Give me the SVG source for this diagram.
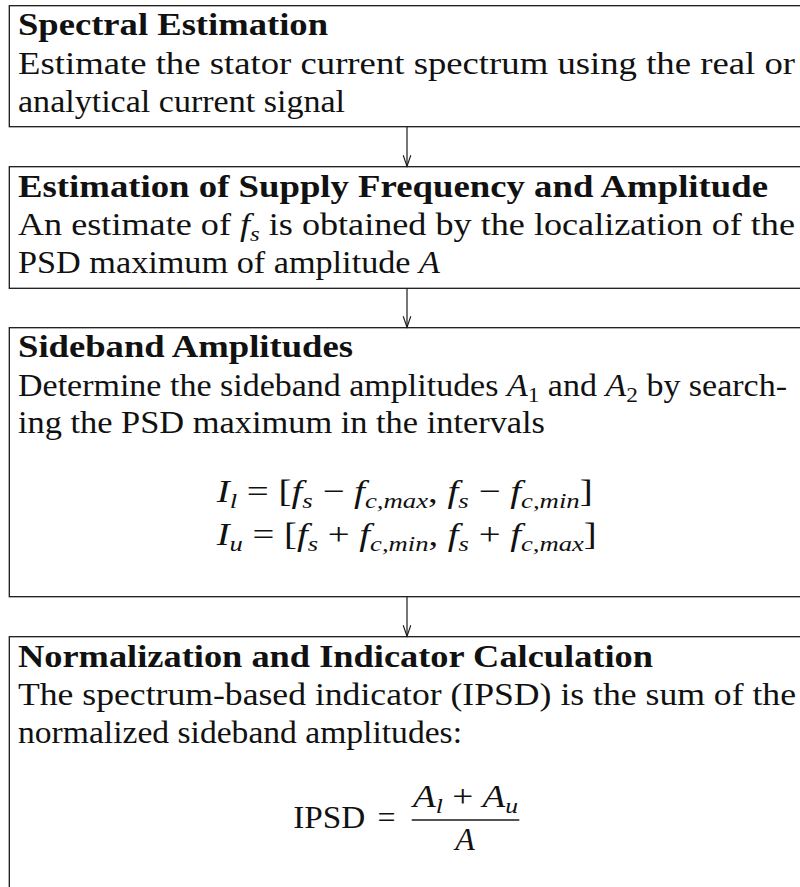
<svg xmlns="http://www.w3.org/2000/svg" width="800" height="887" viewBox="0 0 800 887">
<style>
.box{fill:#fff;stroke:#1a1a1a;stroke-width:1.3}
.t{font-family:"Liberation Serif","Times New Roman",serif;font-size:32px;fill:#111}
.b{font-weight:bold}
.i{font-style:italic}
.s{font-size:22px}
.conn{stroke:#1a1a1a;stroke-width:1.2;fill:none}
</style>
<defs>
<marker id="arr" markerUnits="userSpaceOnUse" markerWidth="14" markerHeight="14" refX="0" refY="0" orient="auto" overflow="visible">
<path d="M-11,-3.8 L0,0 L-11,3.8" fill="none" stroke="#1a1a1a" stroke-width="1.1"/>
</marker>
</defs>
<rect width="800" height="887" fill="#fff"/>

<g id="node-spectral">
<rect class="box" x="9.3" y="5.7" width="900" height="121"/>
<text class="t b" x="18" y="35" textLength="310" lengthAdjust="spacingAndGlyphs">Spectral Estimation</text>
<text class="t" x="18" y="73.5" textLength="777" lengthAdjust="spacingAndGlyphs">Estimate the stator current spectrum using the real or</text>
<text class="t" x="18" y="112" textLength="327" lengthAdjust="spacingAndGlyphs">analytical current signal</text>
</g>

<g id="node-supply">
<rect class="box" x="9.3" y="166.7" width="900" height="121.6"/>
<text class="t b" x="18" y="196.7" textLength="750" lengthAdjust="spacingAndGlyphs">Estimation of Supply Frequency and Amplitude</text>
<text class="t" x="18" y="235" textLength="777" lengthAdjust="spacingAndGlyphs">An estimate of <tspan class="i">f</tspan><tspan class="i s" dy="6">s</tspan><tspan dy="-6"> is obtained by the localization of the</tspan></text>
<text class="t" x="18" y="273.3" textLength="422" lengthAdjust="spacingAndGlyphs">PSD maximum of amplitude <tspan class="i">A</tspan></text>
</g>

<g id="node-sideband">
<rect class="box" x="9.3" y="327.7" width="900" height="269"/>
<text class="t b" x="18" y="357.3" textLength="335" lengthAdjust="spacingAndGlyphs">Sideband Amplitudes</text>
<text class="t" x="18" y="395.7" textLength="769" lengthAdjust="spacingAndGlyphs">Determine the sideband amplitudes <tspan class="i">A</tspan><tspan class="s" dy="6">1</tspan><tspan dy="-6"> and </tspan><tspan class="i">A</tspan><tspan class="s" dy="6">2</tspan><tspan dy="-6"> by search-</tspan></text>
<text class="t" x="18" y="433.3" textLength="527" lengthAdjust="spacingAndGlyphs">ing the PSD maximum in the intervals</text>
<text class="t" x="216.7" y="501.7" textLength="376" lengthAdjust="spacingAndGlyphs"><tspan class="i">I</tspan><tspan class="i s" dy="6">l</tspan><tspan dy="-6"> = [</tspan><tspan class="i">f</tspan><tspan class="i s" dy="6">s</tspan><tspan dy="-6"> − </tspan><tspan class="i">f</tspan><tspan class="i s" dy="6">c,max</tspan><tspan dy="-6">, </tspan><tspan class="i">f</tspan><tspan class="i s" dy="6">s</tspan><tspan dy="-6"> − </tspan><tspan class="i">f</tspan><tspan class="i s" dy="6">c,min</tspan><tspan dy="-6">]</tspan></text>
<text class="t" x="216.7" y="545" textLength="380" lengthAdjust="spacingAndGlyphs"><tspan class="i">I</tspan><tspan class="i s" dy="6">u</tspan><tspan dy="-6"> = [</tspan><tspan class="i">f</tspan><tspan class="i s" dy="6">s</tspan><tspan dy="-6"> + </tspan><tspan class="i">f</tspan><tspan class="i s" dy="6">c,min</tspan><tspan dy="-6">, </tspan><tspan class="i">f</tspan><tspan class="i s" dy="6">s</tspan><tspan dy="-6"> + </tspan><tspan class="i">f</tspan><tspan class="i s" dy="6">c,max</tspan><tspan dy="-6">]</tspan></text>
</g>

<g id="node-normalization">
<rect class="box" x="9.3" y="636.7" width="900" height="300"/>
<text class="t b" x="18" y="666.7" textLength="635" lengthAdjust="spacingAndGlyphs">Normalization and Indicator Calculation</text>
<text class="t" x="18" y="705" textLength="778" lengthAdjust="spacingAndGlyphs">The spectrum-based indicator (IPSD) is the sum of the</text>
<text class="t" x="18" y="743.3" textLength="444" lengthAdjust="spacingAndGlyphs">normalized sideband amplitudes:</text>
<text class="t" x="293.3" y="828.3" textLength="72" lengthAdjust="spacingAndGlyphs">IPSD</text>
<text class="t" x="386.5" y="828.3" text-anchor="middle">=</text>
<text class="t" x="413" y="807" textLength="105" lengthAdjust="spacingAndGlyphs"><tspan class="i">A</tspan><tspan class="i s" dy="6">l</tspan><tspan dy="-6"> + </tspan><tspan class="i">A</tspan><tspan class="i s" dy="6">u</tspan></text>
<line x1="411.7" y1="820" x2="519.3" y2="820" stroke="#1a1a1a" stroke-width="1.3"/>
<text class="t i" x="465" y="850" text-anchor="middle">A</text>
</g>

<g id="connectors">
<line class="conn" x1="407" y1="126.7" x2="407" y2="166.2" marker-end="url(#arr)"/>
<line class="conn" x1="407" y1="288.3" x2="407" y2="327.2" marker-end="url(#arr)"/>
<line class="conn" x1="407" y1="596.7" x2="407" y2="636.2" marker-end="url(#arr)"/>
</g>
</svg>
